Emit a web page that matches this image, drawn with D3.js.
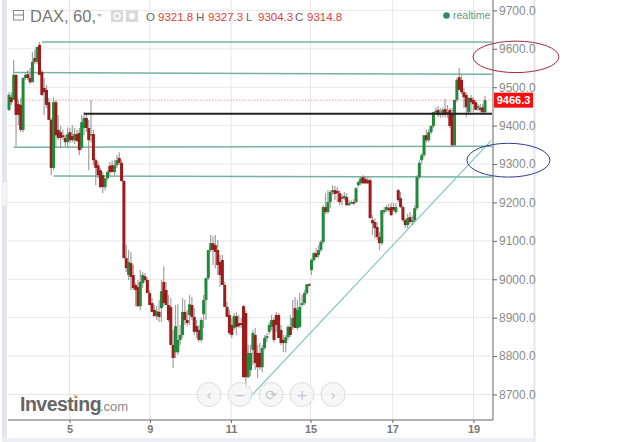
<!doctype html>
<html>
<head>
<title>DAX, 60</title>
<script src="https://d3js.org/d3.v7.min.js"></script>
<style>
  html, body { margin: 0; padding: 0; background: #fff; }
  svg { display: block; font-family: "Liberation Sans", Arial, sans-serif; }
</style>
</head>
<body>
<svg id="chart" width="640" height="442"></svg>
<script>
const opens = [9441,9474,9467,9532,9456,9454,9389,9524,9534,9524,
  9513,9576,9566,9610,9540,9498,9493,9461,9415,9290,
  9461,9389,9383,9375,9368,9357,9383,9373,9362,9378,
  9381,9342,9394,9420,9394,9375,9378,9310,9297,9284,
  9271,9240,9263,9295,9297,9279,9297,9316,9303,9256,
  9055,9011,9042,9011,8985,8980,8930,8990,9008,8998,
  8964,8938,8920,8904,8915,8925,8993,8972,8933,8928,
  8829,8810,8810,8842,8855,8915,8894,8907,8933,8902,
  8878,8868,8842,8909,8946,9003,9076,9094,9089,9076,
  9045,9050,8985,8928,8907,8881,8873,8904,8886,8886,
  8930,8912,8745,8764,8816,8855,8808,8808,8771,8821,
  8847,8863,8876,8894,8907,8907,8868,8842,8834,8849,
  8876,8876,8925,8873,8876,8933,8938,8964,8987,
  9024,9050,9068,9063,9076,9097,9188,9175,9201,9227,9232,9230,9224,9214,9211,9214,9193,9198,9201,9201,
  9245,9250,9266,9261,9258,9258,9154,9149,9136,9110,9094,9175,9180,9185,9188,9188,9175,9232,9211,9188,
  9154,9141,9162,9149,9154,9185,9266,9310,9323,9375,9362,9383,9399,9435,9441,9433,9428,9443,9435,9441,
  9433,9349,9467,9526,9519,9487,9480,9435,9472,9467,9461,9446,9446,9448,9435]
const highs = [9487,9487,9571,9534,9467,9472,9526,9540,9545,9550,
  9592,9597,9605,9618,9545,9524,9506,9472,9420,9474,
  9467,9428,9399,9389,9375,9396,9394,9401,9394,9389,
  9394,9428,9435,9430,9415,9467,9389,9316,9305,9290,
  9279,9263,9284,9305,9310,9310,9323,9331,9310,9258,
  9089,9076,9071,9037,8990,8998,9024,9019,9016,9003,
  8972,8951,8933,8930,8946,8998,9034,8993,8959,8951,
  8868,8933,8935,8881,8951,8946,8920,8959,8954,8925,
  8894,8881,8899,8959,9003,9076,9115,9112,9115,9102,
  9063,9063,8993,8941,8920,8899,8912,8915,8907,8899,
  8933,8920,8829,8829,8868,8873,8829,8834,8829,8855,
  8860,8889,8907,8899,8915,8912,8881,8855,8855,8881,
  8907,8946,8954,8946,8964,8959,8972,8987,8990,
  9055,9071,9081,9089,9102,9193,9224,9232,9232,9245,9243,9240,9232,9222,9227,9224,9206,9206,9209,9240,
  9258,9266,9271,9269,9266,9263,9167,9159,9149,9123,9180,9188,9193,9196,9198,9198,9198,9235,9227,9193,
  9159,9170,9175,9167,9193,9271,9310,9329,9375,9389,9391,9401,9435,9448,9451,9446,9448,9469,9454,9446,
  9446,9467,9524,9550,9532,9498,9487,9474,9480,9474,9467,9456,9456,9456,9477]
const lows = [9438,9454,9467,9347,9401,9383,9383,9519,9519,9508,
  9513,9560,9560,9532,9477,9428,9446,9415,9271,9284,
  9342,9362,9342,9362,9347,9342,9355,9357,9352,9357,
  9323,9336,9375,9383,9284,9357,9297,9245,9263,9237,
  9224,9232,9258,9269,9279,9271,9290,9297,9253,9055,
  9019,8998,8972,8972,8930,8928,8920,8977,8993,8964,
  8933,8915,8904,8894,8889,8889,8930,8933,8889,8829,
  8769,8795,8803,8829,8847,8881,8878,8881,8894,8855,
  8847,8836,8836,8873,8894,8998,9071,9037,9029,9011,
  8980,8985,8928,8902,8855,8847,8868,8855,8873,8873,
  8745,8717,8743,8748,8777,8764,8743,8764,8758,8816,
  8836,8857,8868,8836,8863,8847,8829,8810,8810,8842,
  8849,8868,8873,8868,8873,8928,8933,8959,8982,
  9011,9045,9055,9055,9071,9092,9170,9170,9185,9219,9206,9201,9193,9193,9206,9191,9191,9196,9193,9198,
  9240,9245,9248,9248,9248,9159,9115,9107,9102,9076,9089,9170,9175,9175,9165,9175,9170,9201,9185,9149,
  9133,9133,9144,9141,9149,9180,9261,9300,9318,9357,9357,9378,9394,9430,9422,9420,9422,9422,9420,9394,
  9344,9347,9461,9493,9482,9446,9422,9430,9435,9435,9441,9438,9435,9430,9433]
const closes = [9480,9461,9532,9428,9428,9389,9524,9532,9524,9513,
  9566,9566,9605,9532,9480,9487,9454,9415,9290,9461,
  9375,9368,9368,9370,9357,9378,9362,9362,9378,9360,
  9336,9409,9420,9394,9362,9378,9310,9290,9271,9240,
  9240,9263,9279,9279,9279,9297,9310,9303,9256,9055,
  9029,9045,9006,8977,8972,8930,8993,9011,8998,8964,
  8933,8915,8904,8917,8902,8969,8938,8933,8894,8829,
  8795,8878,8842,8855,8915,8894,8886,8935,8902,8863,
  8863,8842,8894,8946,9003,9076,9094,9076,9071,9037,
  9011,8985,8928,8902,8860,8855,8904,8876,8878,8881,
  8745,8745,8808,8808,8860,8782,8771,8771,8821,8847,
  8852,8881,8894,8842,8881,8847,8834,8834,8849,8876,
  8855,8899,8873,8920,8928,8938,8964,8987,8985,
  9050,9068,9058,9076,9097,9188,9175,9201,9227,9232,9222,9224,9201,9211,9217,9193,9198,9201,9198,9237,
  9253,9263,9250,9250,9250,9159,9146,9133,9110,9094,9180,9180,9188,9180,9167,9180,9188,9206,9188,9154,
  9141,9159,9149,9154,9185,9266,9303,9323,9375,9362,9383,9399,9435,9438,9428,9428,9441,9428,9433,9399,
  9349,9467,9519,9493,9487,9474,9448,9472,9461,9456,9441,9451,9441,9435,9466.3]

const priceTicks = [8700,8800,8900,9000,9100,9200,9300,9400,9500,9600,9700]
const dayBars = [25.8,60.1,94.7,128.6,163.5,198.1]
const dayLabels = ["5","9","11","15","17","19"]

// drawn lines: [start bar, start price, end bar, end price]
const levelLines = [
  [14,9618,206,9618],
  [2,9538,206,9534],
  [2,9344,206,9346],
  [19,9269,206,9266]
]
const supportLine = [32,9431,206,9431]
const trendLine = [102,8688,205.5,9360]
// ellipses: [centre bar, centre price, half width in bars, half height in points, colour]
const ellipses = [
  [216.2,9579,18.3,41,"#a8283c"],
  [213,9310,17.7,44,"#2f3a8f"]
]
const lastPrice = 9466.3
const quote = [["O","9321.8"],["H","9327.3"],["L","9304.3"],["C","9314.8"]]
const quoteX = [146,196,246,295]

const svg = d3.select("#chart")
const PLOT_LEFT = 8, PLOT_RIGHT = 493, PLOT_BOTTOM = 420

const x = d3.scaleLinear().domain([0, opens.length - 1]).range([9, 485])
const y = d3.scaleLinear().domain([8700, 9700]).range([394.5, 10.4])

// window frame
svg.append("rect").attr("x", 2).attr("y", 0).attr("width", 5).attr("height", 442).attr("fill", "#e3e5ee")
svg.append("rect").attr("x", 533.5).attr("y", 0).attr("width", 2).attr("height", 442).attr("fill", "#e3e5ee")
svg.append("rect").attr("x", 2).attr("y", 438).attr("width", 533).attr("height", 4).attr("fill", "#eceef3")
svg.append("rect").attr("x", 2).attr("y", 182).attr("width", 5).attr("height", 24).attr("fill", "#f4f5f8").attr("stroke", "#d5d7df").attr("stroke-width", 0.5)

// grid
svg.append("g").selectAll("line").data(priceTicks).enter().append("line")
  .attr("x1", PLOT_LEFT).attr("x2", PLOT_RIGHT)
  .attr("y1", d => y(d)).attr("y2", d => y(d))
  .attr("stroke", "#e8e8e8").attr("stroke-width", 1)
svg.append("g").selectAll("line").data(dayBars).enter().append("line")
  .attr("x1", d => x(d)).attr("x2", d => x(d))
  .attr("y1", 0).attr("y2", PLOT_BOTTOM)
  .attr("stroke", "#e6e6e6").attr("stroke-width", 1)

// last price line
svg.append("line")
  .attr("x1", PLOT_LEFT).attr("x2", PLOT_RIGHT)
  .attr("y1", y(lastPrice)).attr("y2", y(lastPrice))
  .attr("stroke", "#f08a8a").attr("stroke-width", 0.8).attr("stroke-dasharray", "1.5,1.5")

// hand drawn lines
svg.append("g").selectAll("line").data(levelLines).enter().append("line")
  .attr("x1", d => x(d[0])).attr("y1", d => y(d[1]))
  .attr("x2", d => x(d[2])).attr("y2", d => y(d[3]))
  .attr("stroke", "#74b3a3").attr("stroke-width", 1.5)
svg.append("line")
  .attr("x1", x(trendLine[0])).attr("y1", y(trendLine[1]))
  .attr("x2", x(trendLine[2])).attr("y2", y(trendLine[3]))
  .attr("stroke", "#7fc4b6").attr("stroke-width", 1.1)

// candles
const bars = opens.map((o, i) => ({ i: i, o: o, h: highs[i], l: lows[i], c: closes[i] }))
const candles = svg.append("g")
candles.selectAll("line").data(bars).enter().append("line")
  .attr("x1", d => x(d.i)).attr("x2", d => x(d.i))
  .attr("y1", d => y(d.h)).attr("y2", d => y(d.l))
  .attr("stroke", "#8a8a8a").attr("stroke-width", 1.2).attr("opacity", 0.8)
candles.selectAll("rect").data(bars).enter().append("rect")
  .attr("x", d => x(d.i) - 1.5)
  .attr("width", 3)
  .attr("y", d => y(Math.max(d.o, d.c)))
  .attr("height", d => Math.max(1.5, Math.abs(y(d.o) - y(d.c))))
  .attr("fill", d => d.c >= d.o ? "#21893a" : "#9c1c1c")

svg.append("line")
  .attr("x1", x(supportLine[0])).attr("y1", y(supportLine[1]))
  .attr("x2", x(supportLine[2])).attr("y2", y(supportLine[3]))
  .attr("stroke", "#222").attr("stroke-width", 2)

// axes
const axisY = d3.axisRight(y).tickValues(priceTicks).tickFormat(d => d.toFixed(1)).tickSize(4).tickPadding(2)
const gy = svg.append("g").attr("transform", "translate(" + PLOT_RIGHT + ",0)").call(axisY)
gy.select(".domain").remove()
gy.selectAll("line").attr("stroke", "#666")
gy.selectAll("text").attr("fill", "#8a8a8a").attr("font-size", 12).attr("font-family", "Liberation Sans")
svg.append("line").attr("x1", PLOT_RIGHT).attr("x2", PLOT_RIGHT).attr("y1", 0).attr("y2", PLOT_BOTTOM)
  .attr("stroke", "#666").attr("stroke-width", 1)

const axisX = d3.axisBottom(x).tickValues(dayBars).tickFormat((d, i) => dayLabels[i]).tickSize(3).tickPadding(2)
const gx = svg.append("g").attr("transform", "translate(0," + PLOT_BOTTOM + ")").call(axisX)
gx.select(".domain").remove()
gx.selectAll("line").attr("stroke", "#666")
gx.selectAll("text").attr("fill", "#777").attr("font-size", 11).attr("font-weight", "bold").attr("font-family", "Liberation Sans")
svg.append("line").attr("x1", PLOT_LEFT).attr("x2", PLOT_RIGHT).attr("y1", PLOT_BOTTOM).attr("y2", PLOT_BOTTOM)
  .attr("stroke", "#666").attr("stroke-width", 1)

// last price tag
svg.append("rect").attr("x", 494).attr("y", y(lastPrice) - 7.5).attr("width", 39).attr("height", 15).attr("fill", "#f01010")
svg.append("text").attr("x", 513.5).attr("y", y(lastPrice) + 4).attr("text-anchor", "middle")
  .attr("fill", "#fff").attr("font-size", 11).attr("font-weight", "bold").text(lastPrice.toFixed(1))

// ellipses
svg.append("g").selectAll("ellipse").data(ellipses).enter().append("ellipse")
  .attr("cx", d => x(d[0])).attr("cy", d => y(d[1]))
  .attr("rx", d => x(d[2]) - x(0)).attr("ry", d => y(0) - y(d[3]))
  .attr("fill", "none").attr("stroke", d => d[4]).attr("stroke-width", 1)

// header
svg.append("rect").attr("x", 13.5).attr("y", 10.5).attr("width", 10).attr("height", 9.5).attr("fill", "none").attr("stroke", "#888")
svg.append("line").attr("x1", 13.5).attr("x2", 23.5).attr("y1", 15).attr("y2", 15).attr("stroke", "#888")
svg.append("text").attr("x", 30).attr("y", 21.5).attr("font-size", 16.5).attr("fill", "#777").text("DAX, 60,")
svg.append("path").attr("d", d3.line()([[97, 14], [102, 14], [99.5, 17]])).attr("fill", "#bbb")
svg.append("rect").attr("x", 111).attr("y", 10).attr("width", 12).attr("height", 12).attr("fill", "#d9d9d9")
svg.append("circle").attr("cx", 117).attr("cy", 16).attr("r", 3).attr("fill", "none").attr("stroke", "#fff").attr("stroke-width", 1.5)
svg.append("rect").attr("x", 126).attr("y", 10).attr("width", 12).attr("height", 12).attr("fill", "#d9d9d9")
svg.append("circle").attr("cx", 132).attr("cy", 16).attr("r", 3).attr("fill", "#fff")
quote.forEach((q, i) => {
  svg.append("text").attr("x", quoteX[i]).attr("y", 20.5).attr("font-size", 11.5).attr("fill", "#666").text(q[0])
  svg.append("text").attr("x", quoteX[i] + 12).attr("y", 20.5).attr("font-size", 11.5).attr("fill", "#e0403c").text(q[1])
})
svg.append("circle").attr("cx", 446.5).attr("cy", 15.5).attr("r", 3.3).attr("fill", "#2e8b6a")
svg.append("text").attr("x", 453).attr("y", 19).attr("font-size", 10.5).attr("fill", "#5d9c88").text("realtime")

// logo
svg.append("text").attr("x", 20).attr("y", 411).attr("font-size", 19.5).attr("font-weight", "bold").attr("fill", "#666").attr("letter-spacing", -0.5).text("Investing")
svg.append("text").attr("x", 100).attr("y", 411).attr("font-size", 13).attr("fill", "#888").text(".com")
svg.append("circle").attr("cx", 75.5).attr("cy", 396).attr("r", 1.6).attr("fill", "#f5b060")

// zoom buttons
const buttons = svg.append("g")
const buttonX = [209, 240, 271, 302, 333]
const buttonGlyphs = ["\u2039", "\u2212", "\u27F3", "+", "\u203A"]
buttons.selectAll("circle").data(buttonX).enter().append("circle")
  .attr("cx", d => d).attr("cy", 394.5).attr("r", 12)
  .attr("fill", "#f4f4f4").attr("fill-opacity", 0.75).attr("stroke", "#dcdcdc")
buttons.selectAll("text").data(buttonX).enter().append("text")
  .attr("x", d => d).attr("y", 399.5).attr("text-anchor", "middle")
  .attr("font-size", 14).attr("fill", "#c4c4c4").attr("font-family", "DejaVu Sans")
  .text((d, i) => buttonGlyphs[i])
</script>
</body>
</html>
